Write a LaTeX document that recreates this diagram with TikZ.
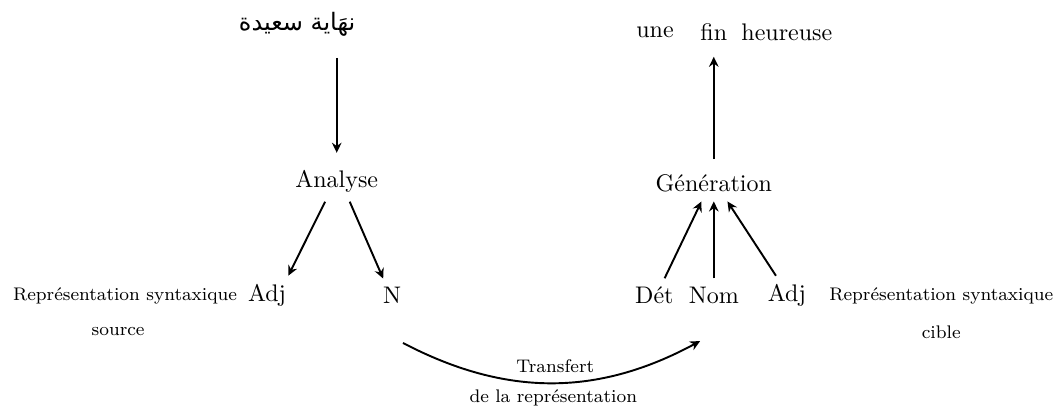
\documentclass[tikz,border=0pt]{standalone}
\usepackage{fontspec}
\newfontfamily\arabicfont[Script=Arabic]{DejaVu Sans}
\TeXXeTstate=1
\usetikzlibrary{arrows.meta}

\begin{document}
\begin{tikzpicture}[thick, >={Stealth[length=4.2pt,width=4pt,inset=1.4pt]},
		small/.style={font=\fontsize{7.6}{9}\selectfont}]
		\useasboundingbox (0,0) rectangle (15.46,-5.96);
		% source side
		\node (src) at (4.35,-0.36) {\arabicfont\beginR نهَاية سعيدة\endR};
		\node (ana) at (4.93,-2.66) {Analyse};
		\node (sadj) at (3.91,-4.33) {Adj};
		\node (sn) at (5.74,-4.33) {N};
		\node[small] (srep) at (1.83,-4.33) {Représentation syntaxique};
		\node[small] (ssrc) at (1.73,-4.86) {source};
		% target side
		\node (gen) at (10.45,-2.69) {Génération};
		\node[anchor=base] (une) at (9.59,-0.55) {une};
		\node[anchor=base] (fin) at (10.45,-0.60) {fin};
		\node[anchor=base] (heur) at (11.52,-0.60) {heureuse};
		\node (det) at (9.58,-4.33) {Dét};
		\node (nom) at (10.45,-4.33) {Nom};
		\node (tadj) at (11.52,-4.33) {Adj};
		\node[small] (trep) at (13.78,-4.33) {Représentation syntaxique};
		\node[small] (tcib) at (13.78,-4.86) {cible};
		\node[small] (tr1) at (8.13,-5.36) {Transfert};
		\node[small] (tr2) at (8.10,-5.83) {de la représentation};
		% arrows
		\draw[->, shorten <=0.18cm, shorten >=0.13cm] (src.south -| ana.north) to (ana.north);
		\draw[->] ([xshift=-0.17cm]ana.south) to ([xshift=0.31cm]sadj.north);
		\draw[->] ([xshift=0.19cm]ana.south) to ([xshift=-0.13cm]sn.north);
		\draw[->] ([xshift=0.15cm]det.north) to ([xshift=-0.18cm]gen.south);
		\draw[->] (nom) to (gen);
		\draw[->] ([xshift=-0.16cm]tadj.north) to ([xshift=0.2cm]gen.south);
		\draw[->, shorten <=0.1cm, shorten >=0.1cm] (gen) to (fin);
		\draw[->] ([xshift=0.16cm,yshift=-0.44cm]sn.south) to [bend right=28] ([xshift=-0.2cm,yshift=-0.41cm]nom.south);
	\end{tikzpicture}
\end{document}
